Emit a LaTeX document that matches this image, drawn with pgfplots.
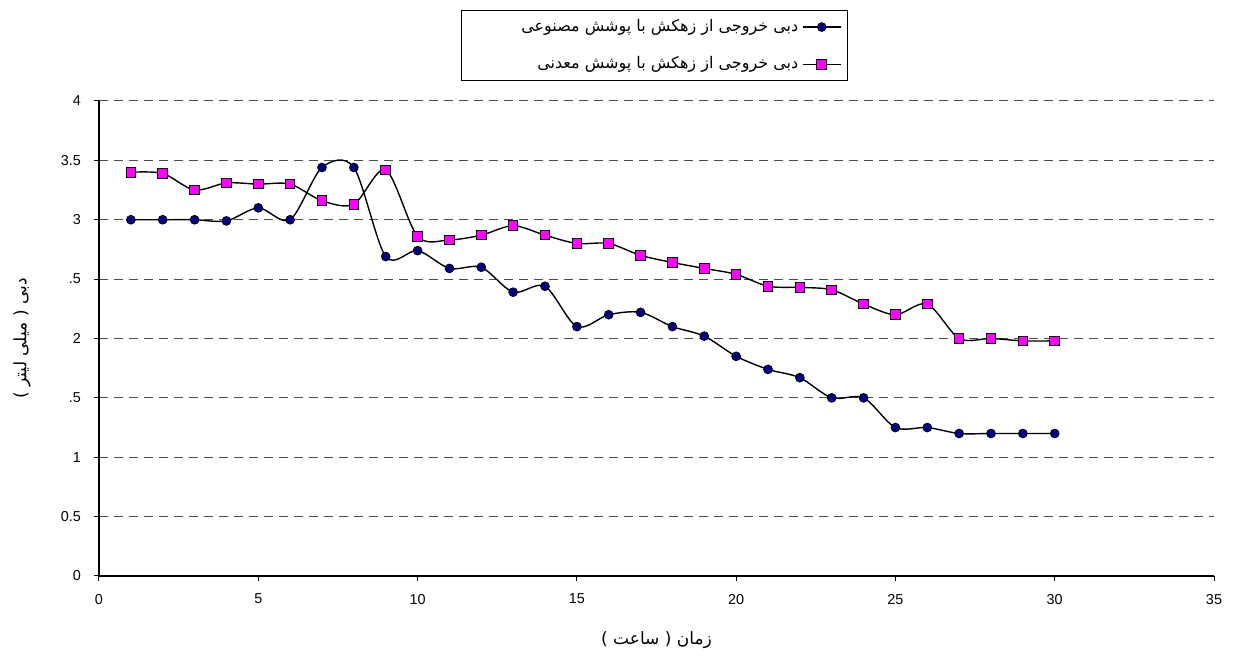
\documentclass[border=0pt]{standalone}
\usepackage{fontspec}
\setmainfont{Liberation Sans}
\newfontfamily\arabicfont[Script=Arabic]{DejaVu Sans}
\TeXXeTstate=1
\usepackage{pgfplots}
\usepackage{pgfplotstable}
\pgfplotsset{compat=1.18}
\definecolor{navyblue}{HTML}{000080}
\definecolor{pinkmag}{HTML}{FF00FF}

% hours, discharge (ml)
\pgfplotstableread{
x y
1 3.00
2 3.00
3 3.00
4 2.99
5 3.10
6 3.00
7 3.44
8 3.44
9 2.69
10 2.74
11 2.59
12 2.60
13 2.39
14 2.44
15 2.10
16 2.20
17 2.22
18 2.10
19 2.02
20 1.85
21 1.74
22 1.67
23 1.50
24 1.50
25 1.25
26 1.25
27 1.20
28 1.20
29 1.20
30 1.20
}\synthetic

\pgfplotstableread{
x y
1 3.40
2 3.39
3 3.25
4 3.31
5 3.30
6 3.30
7 3.16
8 3.13
9 3.42
10 2.86
11 2.83
12 2.87
13 2.95
14 2.87
15 2.80
16 2.80
17 2.70
18 2.64
19 2.59
20 2.54
21 2.44
22 2.43
23 2.41
24 2.29
25 2.20
26 2.29
27 2.00
28 2.00
29 1.98
30 1.98
}\mineral

\begin{document}
\begin{tikzpicture}
\path (-49.5pt,-40.5pt) rectangle (569pt,288pt);
\begin{axis}[
  at={(0,0)}, anchor=south west,
  scale only axis,
  width=557.5pt, height=237.5pt,
  xmin=0, xmax=35, ymin=0, ymax=4,
  xtick={0,5,...,35},
  ytick={0,0.5,...,4},
  yticklabels={0,0.5,1,.5,2,.5,3,3.5,4},
  axis x line=bottom, axis y line=left,
  axis line style={-, line width=0.8pt},
  tick align=outside,
  major tick length=2.5pt,
  tick style={black, line width=0.5pt},
  ymajorgrids=true,
  grid style={black!70, dash pattern=on 4.5pt off 3pt, line width=0.5pt},
  ticklabel style={font=\fontsize{7.2}{8}\selectfont},
  /pgf/number format/assume math mode=true,
  xticklabel style={yshift=-3pt},
  yticklabel style={xshift=-3pt},
  xlabel={\arabicfont\beginR زمان ( ساعت )\endR},
  ylabel={\arabicfont\beginR دبی ( میلی لیتر )\endR},
  xlabel style={at={(axis description cs:0.5,-0.135)}, anchor=center, font=\fontsize{8.5}{9}\selectfont},
  ylabel style={at={(axis description cs:-0.069,0.5)}, anchor=center, font=\fontsize{8.5}{9}\selectfont},
  legend style={at={(rel axis cs:0.498,1.1916)}, anchor=north,
    draw=black, line width=0.5pt, font=\fontsize{8}{9.5}\selectfont,
    legend cell align=right, row sep=7pt, inner xsep=3pt, inner ysep=2.5pt},
  legend plot pos=right,
  legend image code/.code={%
    \draw[#1, mark repeat=2, mark phase=2]
      plot coordinates {(0cm,0cm) (0.33cm,0cm) (0.66cm,0cm)};},
  clip=false,
]
\addplot[black, line width=0.7pt, smooth, tension=0.5, mark=*,
  mark options={fill=navyblue, draw=black, line width=0.4pt}, mark size=2.2pt]
  table[x=x,y=y] {\synthetic};
\addplot[black, line width=0.7pt, smooth, tension=0.5, mark=square*,
  mark options={fill=pinkmag, draw=black, line width=0.5pt}, mark size=2.4pt]
  table[x=x,y=y] {\mineral};
\legend{\hspace*{25pt}\arabicfont\beginR دبی خروجی از زهکش با پوشش مصنوعی\endR,
        \hspace*{25pt}\arabicfont\beginR دبی خروجی از زهکش با پوشش معدنی\endR}
\end{axis}
\end{tikzpicture}
\end{document}
